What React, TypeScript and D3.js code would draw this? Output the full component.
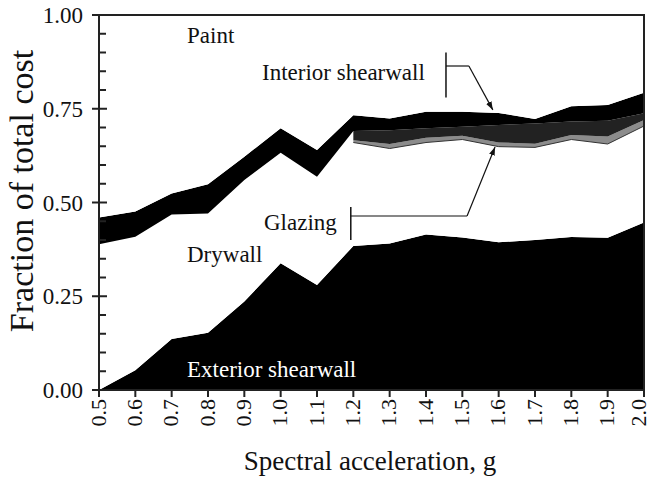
import React from 'react';
import * as d3 from 'd3';

// spectral acceleration (g) at each analysis point
const accel = [0.5, 0.6, 0.7, 0.8, 0.9, 1.0, 1.1, 1.2, 1.3, 1.4, 1.5, 1.6, 1.7, 1.8, 1.9, 2.0];

// fraction of total cost per component (stacked bottom -> top)
const exteriorShearwall = [0, 0.053, 0.136, 0.153, 0.236, 0.338, 0.28, 0.384, 0.391, 0.415, 0.407, 0.394, 0.4, 0.408, 0.406, 0.447];
const drywall = [0.389, 0.356, 0.332, 0.318, 0.324, 0.295, 0.289, 0.276, 0.253, 0.245, 0.261, 0.255, 0.247, 0.26, 0.25, 0.257];
const glazing = [null, null, null, null, null, null, null, 0.006, 0.012, 0.013, 0.01, 0.011, 0.01, 0.012, 0.02, 0.016];
const interiorShearwall = [null, null, null, null, null, null, null, 0.025, 0.037, 0.025, 0.024, 0.047, 0.054, 0.036, 0.042, 0.018];
const otherFinishes = [0.071, 0.067, 0.056, 0.078, 0.062, 0.065, 0.071, 0.042, 0.031, 0.044, 0.04, 0.032, 0.012, 0.041, 0.042, 0.055];
const paint = [0.54, 0.524, 0.476, 0.451, 0.378, 0.302, 0.36, 0.267, 0.276, 0.258, 0.258, 0.261, 0.277, 0.243, 0.24, 0.207];

const yTicks = [0, 0.25, 0.5, 0.75, 1.0];

const layers: { key: string; values: (number | null)[]; fill: string }[] = [
    { key: 'exterior', values: exteriorShearwall, fill: '#000' },
    { key: 'drywall', values: drywall, fill: '#fff' },
    { key: 'glazing', values: glazing, fill: '#8c8c8c' },
    { key: 'interior', values: interiorShearwall, fill: '#222' },
    { key: 'other', values: otherFinishes, fill: '#000' },
    { key: 'paint', values: paint, fill: '#fff' },
];

const W = 652;
const H = 478;
const FONT = '"Liberation Serif", "Times New Roman", serif';

export default function App() {
    const x = d3.scaleLinear().domain([0.5, 2.0]).range([99, 644]);
    const y = d3.scaleLinear().domain([0, 1]).range([390, 15]);

    const rows = accel.map((a, i) => {
        const r: any = { x: a };
        layers.forEach((l) => (r[l.key] = l.values[i] ?? 0));
        return r;
    });
    const stacked = d3.stack<any>().keys(layers.map((l) => l.key))(rows);

    const areaFor = (vals: (number | null)[]) =>
        d3
            .area<any>()
            .defined((_d, i) => vals[i] !== null)
            .x((d) => x(d.data.x))
            .y0((d) => y(d[0]))
            .y1((d) => y(d[1]));

    const glazingIdx = layers.findIndex((l) => l.key === 'glazing');
    const glazingEdge = d3
        .line<any>()
        .defined((_d, i) => glazing[i] !== null)
        .x((d) => x(d.data.x))
        .y((d) => y(d[0]))(stacked[glazingIdx] as any);

    const minor = d3.range(0, 1.0001, 0.05).filter((v) => Math.round(v * 100) % 25 !== 0);

    return (
        <svg
            width={W}
            height={H}
            style={{ position: 'absolute', left: 0, top: 0, background: '#fff' }}
            fontFamily={FONT}
        >
            <defs>
                <marker id="arr" viewBox="0 0 10 10" refX="10" refY="5" markerWidth="7" markerHeight="7" orient="auto">
                    <path d="M0,1.5 L10,5 L0,8.5 z" fill="#111" />
                </marker>
            </defs>

            {stacked.map((s, i) => (
                <path key={layers[i].key} d={areaFor(layers[i].values)(s as any) || ''} fill={layers[i].fill} />
            ))}
            <path d={glazingEdge || ''} fill="none" stroke="#333" strokeWidth={1} />

            {/* frame */}
            <rect x={x(0.5)} y={y(1)} width={x(2.0) - x(0.5)} height={y(0) - y(1)} fill="none" stroke="#222" strokeWidth={2} />

            {/* y ticks */}
            {yTicks.map((t) => (
                <g key={t}>
                    <line x1={x(0.5) - 7} x2={x(0.5) + 8} y1={y(t)} y2={y(t)} stroke="#222" strokeWidth={2} />
                    <text x={83} y={y(t)} dy="0.35em" textAnchor="end" fontSize={23} fill="#111">
                        {d3.format('.2f')(t)}
                    </text>
                </g>
            ))}
            {minor.map((t) => (
                <line key={t} x1={x(0.5)} x2={x(0.5) + 7} y1={y(t)} y2={y(t)} stroke="#222" strokeWidth={2} />
            ))}

            {/* x ticks */}
            {accel.map((a) => (
                <g key={a}>
                    <line x1={x(a)} x2={x(a)} y1={y(0)} y2={y(0) + 7} stroke="#222" strokeWidth={2} />
                    <text
                        transform={`translate(${Math.min(x(a), W - 13)},${y(0) + 9}) rotate(-90)`}
                        dy="0.3em"
                        textAnchor="end"
                        fontSize={22}
                        fill="#111"
                    >
                        {d3.format('.1f')(a)}
                    </text>
                </g>
            ))}

            {/* axis titles */}
            <text x={370} y={470} textAnchor="middle" fontSize={27} fill="#111">
                Spectral acceleration, g
            </text>
            <text transform={`translate(33,191) rotate(-90)`} textAnchor="middle" fontSize={34} fill="#111">
                Fraction of total cost
            </text>

            {/* labels */}
            <text x={187} y={43} fontSize={23} fill="#111">Paint</text>
            <text x={262} y={80} fontSize={23} fill="#111">Interior shearwall</text>
            <text x={264} y={230} fontSize={23} fill="#111">Glazing</text>
            <text x={187} y={262} fontSize={23} fill="#111">Drywall</text>
            <text x={187} y={377} fontSize={23} fill="#fff">Exterior shearwall</text>

            {/* annotation leaders */}
            <g stroke="#111" strokeWidth={1.5} fill="none">
                <line x1={x(1.455)} x2={x(1.455)} y1={y(0.9)} y2={y(0.78)} />
                <line x1={x(1.455)} x2={x(1.518)} y1={y(0.864)} y2={y(0.864)} strokeWidth={1.2} />
                <line x1={x(1.518)} y1={y(0.864)} x2={x(1.584)} y2={y(0.747)} strokeWidth={1.2} markerEnd="url(#arr)" />
                <line x1={x(1.193)} x2={x(1.193)} y1={y(0.488)} y2={y(0.4)} />
                <line x1={x(1.193)} x2={x(1.513)} y1={y(0.464)} y2={y(0.464)} strokeWidth={1.2} />
                <line x1={x(1.513)} y1={y(0.464)} x2={x(1.59)} y2={y(0.648)} strokeWidth={1.2} markerEnd="url(#arr)" />
            </g>
        </svg>
    );
}
